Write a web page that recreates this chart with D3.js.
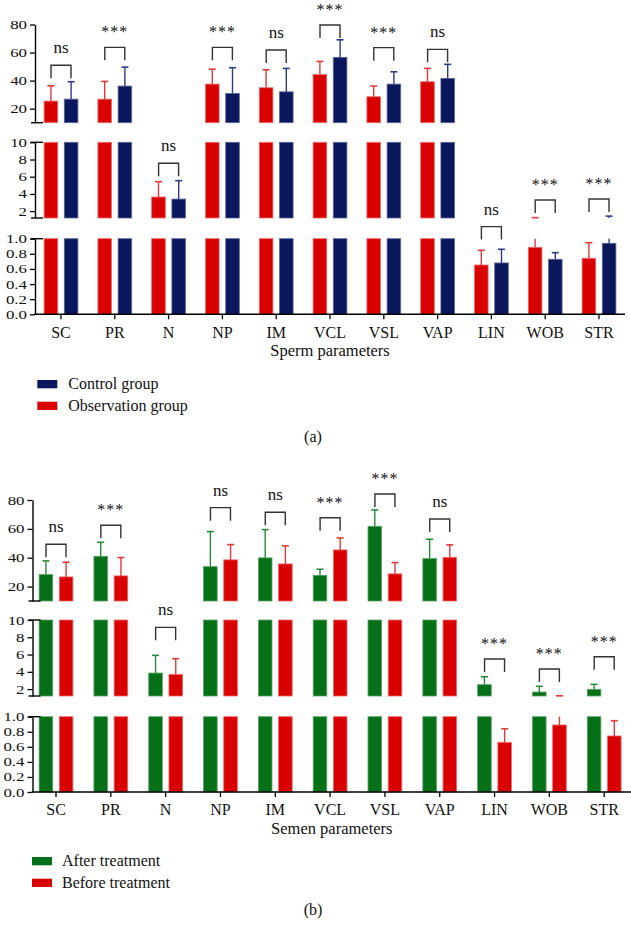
<!DOCTYPE html>
<html>
<head>
<meta charset="utf-8">
<script src="https://cdn.jsdelivr.net/npm/d3@7"></script>
<style>
  html, body { margin: 0; padding: 0; background: #fff; }
  svg { display: block; }
  text { font-family: "Liberation Serif", "Times New Roman", serif; fill: #111; }
</style>
</head>
<body>
<svg id="chart" width="631" height="925"></svg>
<script>
// ---------- DATA ----------
const categories = ["SC", "PR", "N", "NP", "IM", "VCL", "VSL", "VAP", "LIN", "WOB", "STR"];

// Panel (a): sperm parameters
const observationMean = [25.4, 26.8, 3.64, 37.5, 34.9, 44.4, 28.5, 39.2, 0.652, 0.886, 0.741];
const observationSD   = [10.9, 12.6, 1.78, 10.7, 12.8, 9.3, 7.6, 9.5, 0.195, 0.354, 0.206];
const controlMean     = [26.8, 36.1, 3.40, 30.8, 32.0, 56.6, 37.5, 41.6, 0.679, 0.728, 0.939];
const controlSD       = [12.4, 13.5, 2.14, 18.4, 16.7, 12.5, 8.8, 10.0, 0.181, 0.087, 0.481];
const significanceA   = ["ns", "***", "ns", "***", "ns", "***", "***", "ns", "ns", "***", "***"];
const bracketLevelA   = [50.9, 63.7, 7.56, 63.7, 61.8, 79.6, 63.5, 62.3, 1.16, 3.29, 3.41];

// Panel (b): semen parameters
const afterMean   = [28.3, 41.0, 3.86, 33.8, 39.9, 27.8, 61.8, 39.4, 2.51, 1.66, 1.98];
const afterSD     = [9.5, 9.7, 2.05, 24.3, 19.6, 4.2, 11.3, 13.4, 0.92, 0.66, 0.57];
const beforeMean  = [26.7, 27.4, 3.71, 38.5, 35.7, 45.4, 28.8, 40.3, 0.66, 0.89, 0.744];
const beforeSD    = [10.2, 12.7, 1.81, 10.6, 12.5, 8.3, 7.8, 8.6, 0.18, 0.33, 0.203];
const significanceB = ["ns", "***", "ns", "ns", "ns", "***", "***", "ns", "***", "***", "***"];
const bracketLevelB = [49.3, 62.5, 9.15, 74.7, 71.5, 67.7, 84.2, 66.8, 5.48, 4.33, 5.75];

// Axis segments (broken y axis)
const topDomain = [10, 80], midDomain = [1.2, 10], lowDomain = [0, 1];
const topTicks = [20, 40, 60, 80];
const midTicks = [2, 4, 6, 8, 10];
const lowTicks = [0, 0.2, 0.4, 0.6, 0.8, 1.0];

// ---------- STYLE ----------
const RED = "#d90000", RED_EDGE = "#ec6a6a", RED_ERR = "#e03a3a";
const NAVY = "#0b175c", NAVY_EDGE = "#5a6699", NAVY_ERR = "#2c3b85";
const GREEN = "#067018", GREEN_EDGE = "#5aa466", GREEN_ERR = "#2a8a3a";
const TICK_STRETCH = 1.35;

const panels = [
  {
    axisX: 35, xRange: [34.1, 625.9], xEnd: 625,
    top: [122.7, 24.5], mid: [218, 142.3], low: [314.3, 238.7],
    series: [
      { mean: observationMean, sd: observationSD, fill: RED, edge: RED_EDGE, err: RED_ERR },
      { mean: controlMean, sd: controlSD, fill: NAVY, edge: NAVY_EDGE, err: NAVY_ERR }
    ],
    sig: significanceA, bracket: bracketLevelA,
    title: "Sperm parameters",
    legend: [
      { label: "Control group", fill: NAVY },
      { label: "Observation group", fill: RED }
    ],
    legendX: 37.3, legendY: 380, legendTextX: 68.3,
    tag: "(a)", tagY: 442
  },
  {
    axisX: 32.5, xRange: [28.6, 631.6], xEnd: 631,
    top: [601, 500], mid: [696, 620], low: [792, 716.7],
    series: [
      { mean: afterMean, sd: afterSD, fill: GREEN, edge: GREEN_EDGE, err: GREEN_ERR },
      { mean: beforeMean, sd: beforeSD, fill: RED, edge: RED_EDGE, err: RED_ERR }
    ],
    sig: significanceB, bracket: bracketLevelB,
    title: "Semen parameters",
    legend: [
      { label: "After treatment", fill: GREEN },
      { label: "Before treatment", fill: RED }
    ],
    legendX: 32, legendY: 857, legendTextX: 62,
    tag: "(b)", tagY: 915
  }
];

const svg = d3.select("#chart");

panels.forEach(p => {
  const g = svg.append("g");
  const x = d3.scaleBand().domain(categories).range(p.xRange);
  const segs = [
    { domain: topDomain, scale: d3.scaleLinear().domain(topDomain).range(p.top), ticks: topTicks, fmt: d3.format("d") },
    { domain: midDomain, scale: d3.scaleLinear().domain(midDomain).range(p.mid), ticks: midTicks, fmt: d3.format("d") },
    { domain: lowDomain, scale: d3.scaleLinear().domain(lowDomain).range(p.low), ticks: lowTicks, fmt: d3.format(".1f") }
  ];
  const yOf = v => v >= topDomain[0] ? segs[0].scale(v) : (v >= midDomain[0] ? segs[1].scale(v) : segs[2].scale(v));

  const barW = 13.6, gap = 3.3;
  const barX = (i, s) => {
    const c = x(categories[i]) + x.bandwidth() / 2;
    return s === 0 ? c - gap - barW : c + gap;
  };

  // bars + error bars per segment
  p.series.forEach((ser, s) => {
    categories.forEach((cat, i) => {
      const v = ser.mean[i], e = v + ser.sd[i];
      const bx = barX(i, s), cx = bx + barW / 2;
      segs.forEach(seg => {
        const [lo, hi] = seg.domain;
        if (v > lo) {
          const top = Math.min(v, hi);
          g.append("rect")
            .attr("x", bx).attr("width", barW)
            .attr("y", seg.scale(top))
            .attr("height", seg.scale(lo) - seg.scale(top))
            .attr("fill", ser.fill)
            .attr("stroke", ser.edge).attr("stroke-width", 0.8);
        }
        const a = Math.max(v, lo), b = Math.min(e, hi);
        if (b > a) {
          g.append("line")
            .attr("x1", cx).attr("x2", cx)
            .attr("y1", seg.scale(a)).attr("y2", seg.scale(b))
            .attr("stroke", ser.err).attr("stroke-width", 1.4);
        }
        if (e >= lo && e <= hi) {
          g.append("line")
            .attr("x1", cx - 3.5).attr("x2", cx + 3.5)
            .attr("y1", seg.scale(e)).attr("y2", seg.scale(e))
            .attr("stroke", ser.err).attr("stroke-width", 1.6);
        }
      });
    });
  });

  // y axis segments
  segs.forEach(seg => {
    const ax = g.append("g")
      .attr("transform", `translate(${p.axisX},0)`)
      .call(d3.axisLeft(seg.scale).tickValues(seg.ticks).tickFormat(seg.fmt)
        .tickSize(5).tickSizeOuter(0).tickPadding(3));
    ax.select(".domain").attr("stroke", "#000").attr("stroke-width", 1.4);
    ax.selectAll(".tick line").attr("stroke", "#000").attr("stroke-width", 1.3);
    ax.selectAll(".tick text")
      .attr("font-size", 12.5).attr("font-family", "Liberation Serif").attr("fill", "#111")
      .attr("x", -8 / TICK_STRETCH)
      .attr("transform", `scale(${TICK_STRETCH},1)`);
  });
  // break caps
  [segs[0].scale(topDomain[0]), segs[1].scale(midDomain[1]), segs[1].scale(midDomain[0]), segs[2].scale(lowDomain[1])]
    .forEach(yy => {
      g.append("line").attr("x1", p.axisX - 4).attr("x2", p.axisX + 8)
        .attr("y1", yy).attr("y2", yy).attr("stroke", "#000").attr("stroke-width", 1.4);
    });

  // x axis
  const xa = g.append("g")
    .attr("transform", `translate(0,${p.low[0]})`)
    .call(d3.axisBottom(x).tickSize(5).tickSizeOuter(0).tickPadding(7));
  xa.select(".domain").remove();
  xa.selectAll(".tick line").attr("stroke", "#000").attr("stroke-width", 1.3);
  xa.selectAll(".tick text").attr("font-size", 16).attr("font-family", "Liberation Serif").attr("fill", "#111");
  g.append("line").attr("x1", p.axisX - 0.7).attr("x2", p.xEnd)
    .attr("y1", p.low[0]).attr("y2", p.low[0]).attr("stroke", "#000").attr("stroke-width", 1.4);

  // axis title
  g.append("text")
    .attr("x", (p.axisX + p.xEnd) / 2).attr("y", p.low[0] + 42)
    .attr("text-anchor", "middle").attr("font-size", 16.5)
    .text(p.title);

  // significance brackets
  categories.forEach((cat, i) => {
    const c = x(cat) + x.bandwidth() / 2;
    const yb = yOf(p.bracket[i]);
    const x1 = c - 10, x2 = c + 10;
    g.append("path")
      .attr("d", `M${x1},${yb + 13}V${yb}H${x2}V${yb + 13}`)
      .attr("fill", "none").attr("stroke", "#333").attr("stroke-width", 1.4);
    const isNs = p.sig[i] === "ns";
    g.append("text")
      .attr("x", c).attr("y", isNs ? yb - 12 : yb - 10)
      .attr("text-anchor", "middle")
      .attr("font-size", isNs ? 17 : 16)
      .attr("letter-spacing", isNs ? 0 : 1)
      .attr("fill", isNs ? "#111" : "#444")
      .text(p.sig[i]);
  });

  // legend
  p.legend.forEach((d, k) => {
    const yy = p.legendY + k * 21.7;
    g.append("rect").attr("x", p.legendX).attr("y", yy)
      .attr("width", 20).attr("height", 8.3).attr("fill", d.fill);
    g.append("text").attr("x", p.legendTextX).attr("y", yy + 9)
      .attr("font-size", 16).text(d.label);
  });

  // panel tag
  g.append("text").attr("x", 313).attr("y", p.tagY)
    .attr("text-anchor", "middle").attr("font-size", 16).text(p.tag);
});
</script>
</body>
</html>
